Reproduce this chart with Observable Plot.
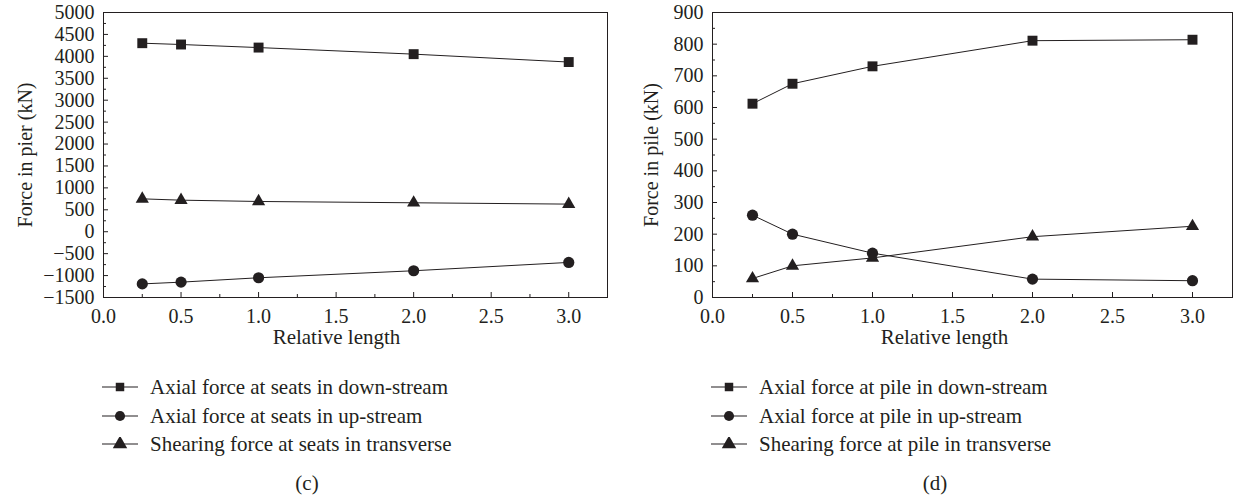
<!DOCTYPE html>
<html>
<head>
<meta charset="utf-8">
<script src="https://cdn.jsdelivr.net/npm/d3@7"></script>
<script src="https://cdn.jsdelivr.net/npm/@observablehq/plot@0.6"></script>
<style>
  html, body { margin: 0; padding: 0; background: #fff; }
  #wrap { position: relative; width: 1233px; height: 498px; overflow: hidden; font-family: "Liberation Serif", serif; color: #231f20; }
  .panel { position: absolute; top: 0; }
  .legend { position: absolute; font-size: 21px; }
  .legend .row { position: absolute; left: 0; height: 22px; white-space: nowrap; display: flex; align-items: center; }
  .legend .row svg { margin-right: 12px; }
  .caption { position: absolute; font-size: 21px; transform: translate(-50%, -50%); }
</style>
</head>
<body>
<div id="wrap"></div>
<script>
// ---- data ----
const relLength = [0.25, 0.5, 1.0, 2.0, 3.0];

const pierSeries = ["Axial force at seats in down-stream", "Axial force at seats in up-stream", "Shearing force at seats in transverse"];
const pierDown = [4300, 4270, 4200, 4050, 3870];
const pierUp = [-1190, -1150, -1050, -890, -700];
const pierShear = [750, 720, 690, 660, 630];

const pileSeries = ["Axial force at pile in down-stream", "Axial force at pile in up-stream", "Shearing force at pile in transverse"];
const pileDown = [612, 675, 730, 811, 814];
const pileUp = [260, 200, 140, 58, 53];
const pileShear = [60, 100, 125, 192, 225];

const symbols = ["square", "circle", "triangle"];
const xTicks = [0, 0.5, 1.0, 1.5, 2.0, 2.5, 3.0];
const xMinor = [0.25, 0.75, 1.25, 1.75, 2.25, 2.75];
const pierTicks = d3.range(-1500, 5001, 500);
const pierMinor = d3.range(-1250, 5000, 500);
const pileTicks = d3.range(0, 901, 100);
const pileMinor = d3.range(50, 900, 100);

const ink = "#231f20";
const wrap = document.getElementById("wrap");

function table(names, arrays) {
  const rows = [];
  names.forEach((name, i) => {
    arrays[i].forEach((v, j) => rows.push({series: name, symbol: symbols[i], x: relLength[j], y: v}));
  });
  return rows;
}

function makePanel({names, arrays, yDomain, yTicks, yMinor, yLabel, width, marginLeft, marginRight, yLabelOffset, xLabelDx}) {
  const data = table(names, arrays);
  const rSize = {square: 5.6, circle: 5.6, triangle: 4.9};
  return Plot.plot({
    width, height: 360,
    marginLeft, marginRight, marginTop: 12, marginBottom: 63,
    style: {fontFamily: "Liberation Serif", fontSize: "20px", color: ink, background: "transparent"},
    x: {domain: [0, 3.25]},
    y: {domain: yDomain},
    marks: [
      Plot.frame({stroke: ink, strokeWidth: 1}),
      Plot.axisX({ticks: xTicks, tickSize: -5, tickPadding: 16, tickFormat: d3.format(".1f"), label: null}),
      Plot.axisX({ticks: xMinor, tickSize: -3, tickFormat: () => "", label: null}),
      Plot.text(["Relative length"], {frameAnchor: "bottom", dx: xLabelDx, dy: 40, lineAnchor: "middle", fontSize: 21, fill: ink}),
      Plot.axisY({ticks: yTicks, tickSize: -5, tickPadding: 14, tickFormat: d => d3.format("d")(d).replace("-", "\u2212"), label: yLabel, labelArrow: "none", labelAnchor: "center", labelOffset: yLabelOffset, fontSize: 20}),
      Plot.axisY({ticks: yMinor, tickSize: -3, tickFormat: () => "", label: null}),
      Plot.line(data, {x: "x", y: "y", z: "series", stroke: ink, strokeWidth: 1}),
      ...symbols.map(s => Plot.dot(data.filter(d => d.symbol === s), {x: "x", y: "y", symbol: () => s, r: rSize[s], fill: ink, stroke: "none"}))
    ]
  });
}

function makeLegend(names, left, top) {
  const div = document.createElement("div");
  div.className = "legend";
  div.style.left = left + "px";
  div.style.top = top + "px";
  const sizes = {square: 72, circle: 80, triangle: 90};
  const gaps = [0, 29, 57];
  names.forEach((name, i) => {
    const row = document.createElement("div");
    row.className = "row";
    row.style.top = gaps[i] + "px";
    const svg = d3.create("svg").attr("width", 36).attr("height", 14);
    svg.append("line").attr("x1", 0).attr("x2", 36).attr("y1", 7).attr("y2", 7).attr("stroke", ink).attr("stroke-width", 1.2);
    const sym = {square: d3.symbolSquare, circle: d3.symbolCircle, triangle: d3.symbolTriangle}[symbols[i]];
    svg.append("path").attr("transform", "translate(18,7)").attr("d", d3.symbol(sym, sizes[symbols[i]])()).attr("fill", ink);
    row.appendChild(svg.node());
    const span = document.createElement("span");
    span.textContent = name;
    row.appendChild(span);
    div.appendChild(row);
  });
  return div;
}

function caption(text, x, y) {
  const d = document.createElement("div");
  d.className = "caption";
  d.style.left = x + "px";
  d.style.top = y + "px";
  d.textContent = text;
  return d;
}

const left = makePanel({names: pierSeries, arrays: [pierDown, pierUp, pierShear], yDomain: [-1500, 5000], yTicks: pierTicks, yMinor: pierMinor, yLabel: "Force in pier (kN)", width: 616, marginLeft: 103, marginRight: 9, yLabelOffset: 86, xLabelDx: -19});
left.classList.add("panel");
left.style.left = "0px";
wrap.appendChild(left);

const right = makePanel({names: pileSeries, arrays: [pileDown, pileUp, pileShear], yDomain: [0, 900], yTicks: pileTicks, yMinor: pileMinor, yLabel: "Force in pile (kN)", width: 617, marginLeft: 96, marginRight: 1, yLabelOffset: 69, xLabelDx: -28});
right.classList.add("panel");
right.style.left = "616px";
wrap.appendChild(right);

wrap.appendChild(makeLegend(pierSeries, 102, 376));
wrap.appendChild(makeLegend(pileSeries, 711, 376));
wrap.appendChild(caption("(c)", 307, 483));
wrap.appendChild(caption("(d)", 935, 483));
</script>
</body>
</html>
